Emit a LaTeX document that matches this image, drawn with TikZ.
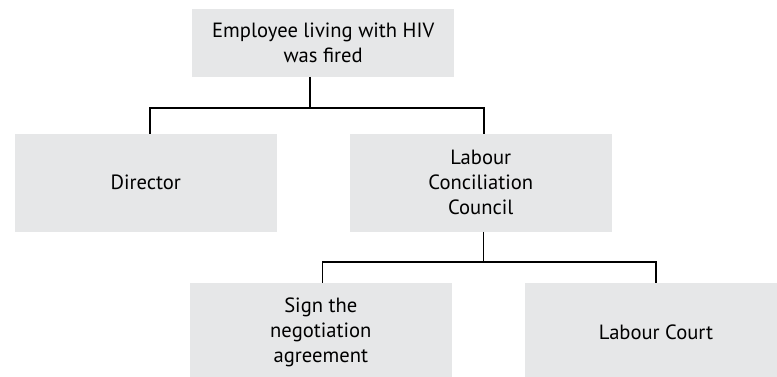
\documentclass[tikz,border=0pt]{standalone}
\usepackage{fontspec}
\setmainfont{PT Sans}
\definecolor{boxgray}{HTML}{E6E7E8}
\tikzset{
  orgbox/.style={fill=boxgray, draw=none, minimum width=261.7pt, minimum height=97.7pt,
    align=center, inner sep=0pt, font=\fontsize{20.6}{25}\selectfont},
  link/.style={draw=black, line width=1.3pt}
}
\begin{document}
\begin{tikzpicture}[x=1pt,y=-1pt]
\useasboundingbox (0,0) rectangle (777,377);
\clip (0,0) rectangle (777,377);
\node[orgbox, minimum height=67.7pt] (top) at (323.2,42.8) {Employee living with HIV\\was fired};
\node[orgbox] (dir) at (145.8,182.8) {Director};
\node[orgbox] (lcc) at (480.8,182.8) {Labour\\Conciliation\\Council};
\node[orgbox] (sign) at (320.8,332) {Sign the\\negotiation\\agreement};
\node[orgbox] (court) at (656,332) {Labour Court};
\coordinate (bus1) at (310,108);
\coordinate (bus2) at (483.5,262);
\draw[link] ([xshift=-13.2pt]top.south) -- (bus1);
\draw[link] ([xshift=4.2pt]dir.north) |- (bus1) -| ([xshift=3.2pt]lcc.north);
\draw[link] ([xshift=2.7pt]lcc.south) -- (bus2);
\draw[link] ([xshift=1.9pt]sign.north) |- (bus2) -| (court.north);
\end{tikzpicture}
\end{document}
